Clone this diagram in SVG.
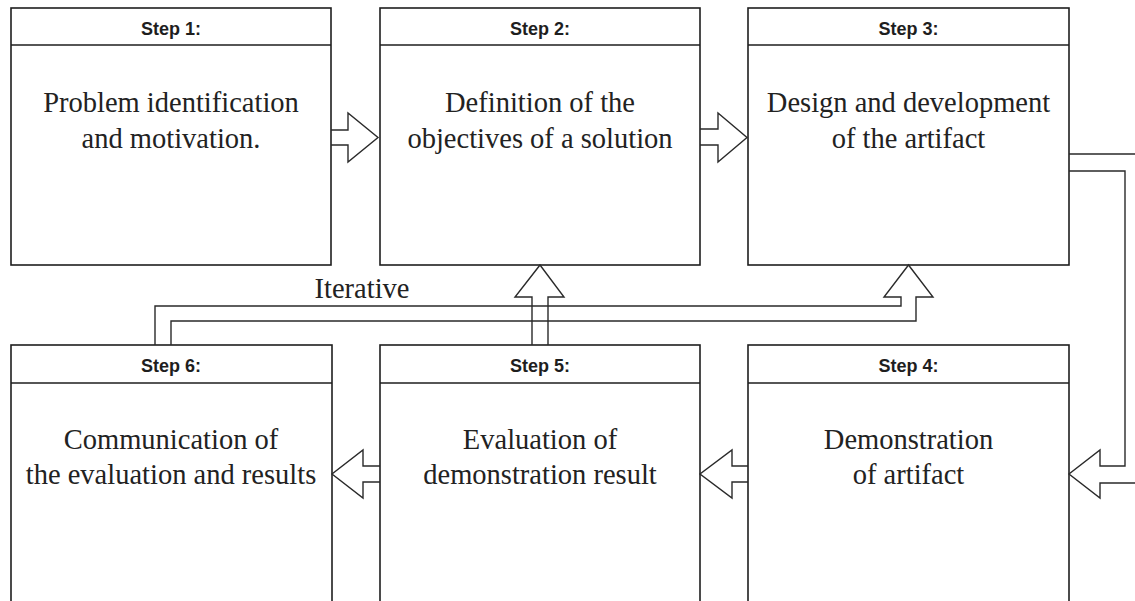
<svg xmlns="http://www.w3.org/2000/svg" width="1135" height="601" viewBox="0 0 1135 601">
<style>
.box{fill:#fff;stroke:#1e1e1e;stroke-width:1.6}
.hdr{font-family:"Liberation Sans",Arial,sans-serif;font-weight:bold;font-size:18px;fill:#1e1e1e;text-anchor:middle}
.txt{font-family:"Liberation Serif","Times New Roman",serif;font-size:28.5px;fill:#222;text-anchor:middle}
.arr{fill:none;stroke:#2a2a2a;stroke-width:1.4;stroke-linejoin:miter}
</style>
<rect width="1135" height="601" fill="#fff"/>
<g id="step1">
<rect class="box" x="11" y="8" width="320" height="257"/>
<line class="box" x1="11" y1="45" x2="331" y2="45"/>
<text class="hdr" x="171" y="35">Step 1:</text>
<text class="txt" x="171" y="112">Problem identification</text>
<text class="txt" x="171" y="148">and motivation.</text>
</g>
<g id="step2">
<rect class="box" x="380" y="8" width="320" height="257"/>
<line class="box" x1="380" y1="45" x2="700" y2="45"/>
<text class="hdr" x="540" y="35">Step 2:</text>
<text class="txt" x="540" y="112">Definition of the</text>
<text class="txt" x="540" y="148">objectives of a solution</text>
</g>
<g id="step3">
<rect class="box" x="748" y="8" width="321" height="257"/>
<line class="box" x1="748" y1="45" x2="1069" y2="45"/>
<text class="hdr" x="908.5" y="35">Step 3:</text>
<text class="txt" x="908.5" y="112">Design and development</text>
<text class="txt" x="908.5" y="148">of the artifact</text>
</g>
<g id="step6">
<rect class="box" x="11" y="345" width="321" height="280"/>
<line class="box" x1="11" y1="383" x2="332" y2="383"/>
<text class="hdr" x="171" y="372">Step 6:</text>
<text class="txt" x="171" y="449">Communication of</text>
<text class="txt" x="171" y="484">the evaluation and results</text>
</g>
<g id="step5">
<rect class="box" x="380" y="345" width="320" height="280"/>
<line class="box" x1="380" y1="383" x2="700" y2="383"/>
<text class="hdr" x="540" y="372">Step 5:</text>
<text class="txt" x="540" y="449">Evaluation of</text>
<text class="txt" x="540" y="484">demonstration result</text>
</g>
<g id="step4">
<rect class="box" x="748" y="345" width="321" height="280"/>
<line class="box" x1="748" y1="383" x2="1069" y2="383"/>
<text class="hdr" x="908.5" y="372">Step 4:</text>
<text class="txt" x="908.5" y="449">Demonstration</text>
<text class="txt" x="908.5" y="484">of artifact</text>
</g>
<g id="connectors">
<path class="arr" d="M331,130 H348 V113 L378,137.5 L348,162 V145 H331"/>
<path class="arr" d="M700,129 H718 V113 L747,137.5 L718,162 V145 H700"/>
<path class="arr" d="M1069,154 H1142 V483 H1100 V498 L1069,474 L1100,450 V466 H1125 V171 H1069"/>
<path class="arr" d="M748,466 H732 V450 L700,474 L732,498 V482 H748"/>
<path class="arr" d="M380,466 H363 V450 L332,474 L363,498 V482 H380"/>
<path class="arr" d="M532,345 V297 H515 L540,265 L564,297 H548 V345"/>
<path class="arr" d="M155,345 V306 H901 V297 H884 L908.5,265 L933,297 H916 V321 H171 V345"/>
<text class="txt" x="362" y="298">Iterative</text>
</g>
</svg>
